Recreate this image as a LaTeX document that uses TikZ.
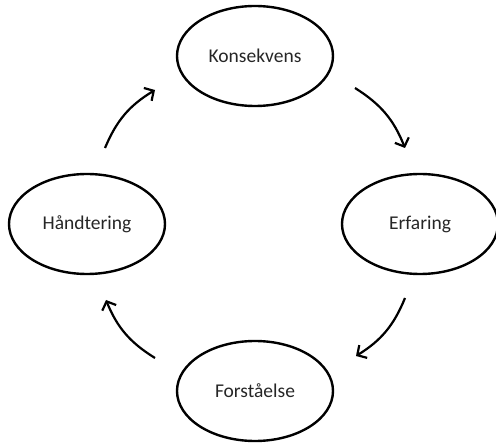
\documentclass[tikz,border=0pt]{standalone}
\usepackage{fontspec}
\setmainfont{Carlito}
\usetikzlibrary{shapes.geometric,arrows.meta}
\begin{document}
\begin{tikzpicture}[x=1pt,y=1pt,
  stage/.style={draw=black,line width=2.4pt,ellipse,minimum width=156pt,minimum height=100pt,inner sep=0pt,
    text=black!85,font=\fontsize{19.5}{22}\selectfont},
  flow/.style={line width=2.2pt,-{Straight Barb[length=7pt,width=15pt,line width=2.2pt]}}]
\useasboundingbox (0,0) rectangle (496,445);
\node[stage] (k) at (255,389) {Konsekvens};
\node[stage] (h) at (87,221) {Håndtering};
\node[stage] (e) at (420,221) {Erfaring};
\node[stage] (f) at (255,54) {Forståelse};
\coordinate (a1s) at (105,297);
\coordinate (a1e) at (155,355);
\coordinate (a2s) at (355,357);
\coordinate (a2e) at (405,297);
\coordinate (a3s) at (405,147);
\coordinate (a3e) at (356,89);
\coordinate (a4s) at (155,87);
\coordinate (a4e) at (106,145);
\draw[flow] (a1s) to[bend left=18] (a1e);
\draw[flow] (a2s) to[bend left=18] (a2e);
\draw[flow] (a3s) to[bend left=18] (a3e);
\draw[flow] (a4s) to[bend left=18] (a4e);
\end{tikzpicture}
\end{document}
